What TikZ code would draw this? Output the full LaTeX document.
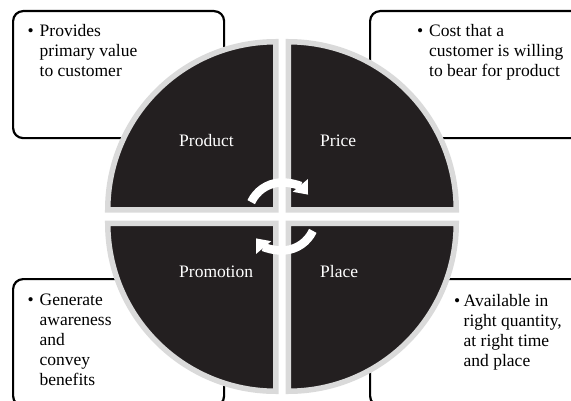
\documentclass[tikz,border=0pt]{standalone}
\usepackage{fontspec}
\setmainfont{Liberation Serif}
\usetikzlibrary{arrows.meta}
\definecolor{quaddark}{HTML}{231F20}
\definecolor{quadedge}{HTML}{DADADA}
\tikzset{
  infobox/.style={draw=black, line width=2.2pt, rounded corners=10pt, fill=white,
    minimum width=211pt, minimum height=127pt, anchor=north west, inner sep=0pt},
  quad/.style={fill=quaddark, draw=quadedge, line width=5.5pt, line join=miter},
  quadlabel/.style={text=white, anchor=base west, inner sep=0pt, font=\fontsize{17.5}{20}\selectfont},
  boxtext/.style={anchor=base west, inner sep=0pt, font=\fontsize{17.5}{20}\selectfont},
  cyclearrow/.style={draw=white, line width=8.5pt, -{Triangle[width=19pt,length=12pt]}},
}
\begin{document}
\begin{tikzpicture}[x=1pt,y=1pt]
\useasboundingbox (0,0) rectangle (571,400);
\clip (0,0) rectangle (571,400);
% boxes
\node[infobox] (tlbox) at (12,390) {};
\node[infobox] (trbox) at (369,390) {};
\node[infobox] (blbox) at (12,122) {};
\node[infobox] (brbox) at (369,122) {};
% quadrants
\def\R{168}
\coordinate (tl) at (275.75,190.25);
\coordinate (tr) at (288.25,190.25);
\coordinate (bl) at (275.75,176.75);
\coordinate (br) at (288.25,176.75);
\draw[quad] (tl) -- ++(-\R,0) arc[start angle=180, end angle=90, radius=\R] -- cycle;
\draw[quad] (tr) -- ++(0,\R) arc[start angle=90, end angle=0, radius=\R] -- cycle;
\draw[quad] (br) -- ++(\R,0) arc[start angle=0, end angle=-90, radius=\R] -- cycle;
\draw[quad] (bl) -- ++(0,-\R) arc[start angle=270, end angle=180, radius=\R] -- cycle;
% labels
\node[quadlabel] (product) at (179,254) {Product};
\node[quadlabel] (price) at (320,254) {Price};
\node[quadlabel] (promotion) at (179,123) {Promotion};
\node[quadlabel] (place) at (320,123) {Place};
% cycle arrows
\coordinate (c) at (282,183.5);
\draw[cyclearrow] (c) ++(155:34) arc[start angle=155, end angle=40, radius=34];
\draw[cyclearrow] (c) ++(-25:34) arc[start angle=-25, end angle=-140, radius=34];
% box texts
\node[boxtext] (tlbul) at (27.5,363) {•};
\node[boxtext] (tltext) at (39.5,363) {\begin{tabular}[t]{@{}l@{}}Provides\\primary value\\to customer\end{tabular}};
\node[boxtext] (trbul) at (417,363) {•};
\node[boxtext] (trtext) at (429,363) {\begin{tabular}[t]{@{}l@{}}Cost that a\\customer is willing\\to bear for product\end{tabular}};
\node[boxtext] (blbul) at (27.5,95) {•};
\node[boxtext] (bltext) at (39.5,95) {\begin{tabular}[t]{@{}l@{}}Generate\\awareness\\and\\convey\\benefits\end{tabular}};
\node[boxtext] (brbul) at (454,94) {•};
\node[boxtext] (brtext) at (463.5,94) {\begin{tabular}[t]{@{}l@{}}Available in\\right quantity,\\at right time\\and place\end{tabular}};
\end{tikzpicture}
\end{document}
